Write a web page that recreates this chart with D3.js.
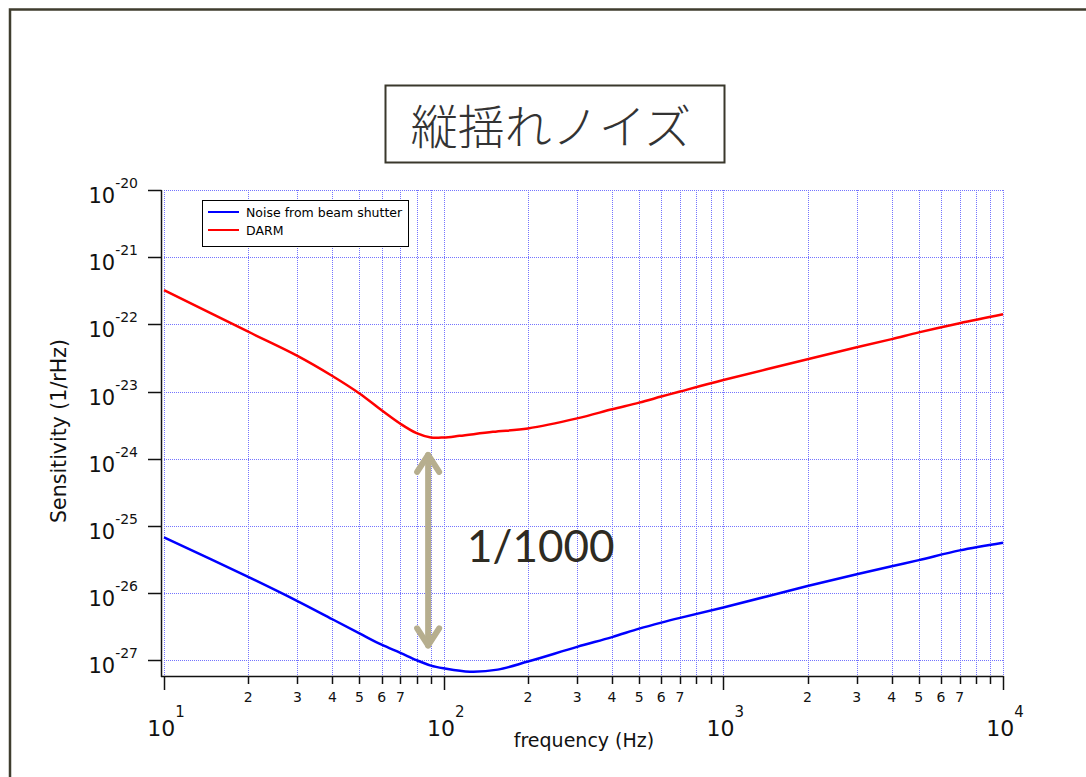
<!DOCTYPE html>
<html>
<head>
<meta charset="utf-8">
<script src="https://cdn.jsdelivr.net/npm/d3@7"></script>
<style>
  body { margin: 0; background: #fff; }
  svg { display: block; }
</style>
</head>
<body>
<svg width="1086" height="777"></svg>
<script>
// data (frequency in Hz, sensitivity in 1/rHz)
const blueFreq = [10, 20, 30, 40, 50, 60, 70, 80, 90, 100, 124, 156, 200, 300, 400, 500, 600, 700, 1000, 2000, 3000, 4000, 5000, 7000, 10000];
const blueVal = [6.76e-26, 1.74e-26, 7.59e-27, 4.07e-27, 2.51e-27, 1.70e-27, 1.29e-27, 1.00e-27, 8.32e-28, 7.59e-28, 6.76e-28, 7.24e-28, 9.55e-28, 1.58e-27, 2.21e-27, 2.95e-27, 3.63e-27, 4.27e-27, 6.10e-27, 1.27e-26, 1.91e-26, 2.51e-26, 3.09e-26, 4.32e-26, 5.62e-26];

const redFreq = [10, 20, 30, 40, 50, 60, 70, 80, 90, 100, 114, 150, 200, 300, 400, 500, 600, 700, 1000, 2000, 3000, 4000, 5000, 7000, 10000];
const redVal = [3.24e-22, 7.76e-23, 3.39e-23, 1.70e-23, 9.33e-24, 5.25e-24, 3.31e-24, 2.40e-24, 2.07e-24, 2.07e-24, 2.19e-24, 2.51e-24, 2.82e-24, 3.98e-24, 5.43e-24, 6.84e-24, 8.41e-24, 1.00e-23, 1.48e-23, 3.02e-23, 4.57e-23, 6.03e-23, 7.59e-23, 1.04e-22, 1.41e-22];

const seriesNames = ["Noise from beam shutter", "DARM"];
const xMajor = [10, 100, 1000, 10000];
const xMajorExp = ["1", "2", "3", "4"];
const yMajor = [1e-20, 1e-21, 1e-22, 1e-23, 1e-24, 1e-25, 1e-26, 1e-27];
const yMajorExp = ["-20", "-21", "-22", "-23", "-24", "-25", "-26", "-27"];
const titleText = "縦揺れノイズ";
const ratioText = "1/1000";
const arrowFreq = 88, arrowTop = 1.26e-24, arrowBottom = 1.5e-27;

var svg = d3.select("svg");
var font = "'DejaVu Sans', sans-serif";

svg.append("rect").attr("width", 1086).attr("height", 777).attr("fill", "#fff");

// outer frame (runs off the page right and bottom)
svg.append("path")
  .attr("d", "M10,790 L10,9.5 L1100,9.5")
  .attr("fill", "none")
  .attr("stroke", "#3f3d2e")
  .attr("stroke-width", 2.5);

var x = d3.scaleLog().domain([10, 10000]).range([164, 1003]);
var y = d3.scaleLog().domain([1e-20, Math.pow(10, -27.235)]).range([190, 676]);

// minor ticks for x
var xMinor = [];
xMajor.slice(0, 3).forEach(function(m) {
  for (let k = 2; k <= 9; k++) xMinor.push(m * k);
});

var grid = svg.append("g")
  .attr("stroke", "#7474ff")
  .attr("stroke-width", 1)
  .attr("stroke-dasharray", "1,1");

grid.selectAll(".vg")
  .data(xMajor.concat(xMinor))
  .enter().append("line")
  .attr("x1", d => Math.round(x(d)) + 0.5)
  .attr("x2", d => Math.round(x(d)) + 0.5)
  .attr("y1", 190)
  .attr("y2", 676);

grid.selectAll(".hg")
  .data(yMajor)
  .enter().append("line")
  .attr("x1", 164)
  .attr("x2", 1003)
  .attr("y1", d => Math.round(y(d)) + 0.5)
  .attr("y2", d => Math.round(y(d)) + 0.5);

// axes
var axes = svg.append("g").attr("stroke", "#111").attr("stroke-width", 1.5).attr("fill", "none");
axes.append("line").attr("x1", 161.5).attr("x2", 161.5).attr("y1", 190).attr("y2", 677);
axes.append("line").attr("x1", 161).attr("x2", 1003.5).attr("y1", 676.5).attr("y2", 676.5);

axes.selectAll(".yt")
  .data(yMajor)
  .enter().append("line")
  .attr("x1", 148).attr("x2", 161.5)
  .attr("y1", d => Math.round(y(d)) + 0.5)
  .attr("y2", d => Math.round(y(d)) + 0.5);

axes.selectAll(".xt")
  .data(xMajor)
  .enter().append("line")
  .attr("x1", d => Math.round(x(d)) + 0.5)
  .attr("x2", d => Math.round(x(d)) + 0.5)
  .attr("y1", 676).attr("y2", 690);

axes.selectAll(".xm")
  .data(xMinor)
  .enter().append("line")
  .attr("x1", d => Math.round(x(d)) + 0.5)
  .attr("x2", d => Math.round(x(d)) + 0.5)
  .attr("y1", 676).attr("y2", 684);

// tick labels
var ylab = svg.selectAll(".yl")
  .data(yMajor)
  .enter().append("text")
  .attr("x", 138)
  .attr("y", d => y(d) + 13)
  .attr("text-anchor", "end")
  .style("font-family", font)
  .style("font-size", "21px")
  .attr("fill", "#111");
ylab.append("tspan").text("10");
ylab.append("tspan")
  .attr("dy", -15)
  .style("font-size", "14px")
  .text((d, i) => yMajorExp[i]);

var xlab = svg.selectAll(".xl")
  .data(xMajor)
  .enter().append("text")
  .attr("x", d => x(d) + 2)
  .attr("y", 736)
  .attr("text-anchor", "middle")
  .style("font-family", font)
  .style("font-size", "22px")
  .attr("fill", "#111");
xlab.append("tspan").text("10");
xlab.append("tspan")
  .attr("dy", -19)
  .style("font-size", "15px")
  .text((d, i) => xMajorExp[i]);

svg.selectAll(".xml")
  .data(xMinor.filter(d => +String(d)[0] <= 7))
  .enter().append("text")
  .attr("x", d => x(d))
  .attr("y", 702)
  .attr("text-anchor", "middle")
  .style("font-family", font)
  .style("font-size", "14px")
  .attr("fill", "#111")
  .text(d => String(d)[0]);

// axis titles
svg.append("text")
  .attr("x", 584)
  .attr("y", 747)
  .attr("text-anchor", "middle")
  .style("font-family", font)
  .style("font-size", "19px")
  .attr("fill", "#111")
  .text("frequency (Hz)");

svg.append("text")
  .attr("transform", "translate(66,431) rotate(-90)")
  .attr("text-anchor", "middle")
  .style("font-family", font)
  .style("font-size", "20.5px")
  .attr("fill", "#111")
  .text("Sensitivity (1/rHz)");

// curves
var line = d3.line()
  .x(d => x(d[0]))
  .y(d => y(d[1]))
  .curve(d3.curveCatmullRom.alpha(0.5));

svg.append("path")
  .datum(redFreq.map((f, i) => [f, redVal[i]]))
  .attr("fill", "none")
  .attr("stroke", "#ff0000")
  .attr("stroke-width", 2.5)
  .attr("d", line);

svg.append("path")
  .datum(blueFreq.map((f, i) => [f, blueVal[i]]))
  .attr("fill", "none")
  .attr("stroke", "#0000ff")
  .attr("stroke-width", 2.5)
  .attr("d", line);

// legend
var legend = svg.append("g");
legend.append("rect")
  .attr("x", 202.5).attr("y", 200.5)
  .attr("width", 206).attr("height", 46)
  .attr("fill", "#fff")
  .attr("stroke", "#000")
  .attr("stroke-width", 1);
[["#0000ff", 212], ["#ff0000", 230]].forEach(function(s, i) {
  legend.append("line")
    .attr("x1", 208).attr("x2", 239)
    .attr("y1", s[1]).attr("y2", s[1])
    .attr("stroke", s[0]).attr("stroke-width", 2);
  legend.append("text")
    .attr("x", 246).attr("y", s[1] + 4.5)
    .style("font-family", font)
    .style("font-size", "12.5px")
    .attr("fill", "#000")
    .text(seriesNames[i]);
});

// title box
svg.append("rect")
  .attr("x", 385.5).attr("y", 85.5)
  .attr("width", 339).attr("height", 77)
  .attr("fill", "#fff")
  .attr("stroke", "#3a382c")
  .attr("stroke-width", 2);
svg.append("text")
  .attr("x", 551).attr("y", 144)
  .attr("text-anchor", "middle")
  .style("font-family", "'Noto Sans CJK JP', sans-serif")
  .style("font-weight", 300)
  .style("font-size", "47px")
  .attr("fill", "#333")
  .text(titleText);

// ratio annotation arrow
var ax = x(arrowFreq), ay1 = y(arrowTop), ay2 = y(arrowBottom);
var arrow = svg.append("g")
  .attr("stroke", "#b6ae8e")
  .attr("stroke-width", 6)
  .attr("fill", "none")
  .attr("stroke-linecap", "round")
  .attr("stroke-linejoin", "round");
arrow.append("line").attr("x1", ax).attr("x2", ax).attr("y1", ay1 + 3).attr("y2", ay2 - 3);
arrow.append("path").attr("d", `M${ax - 11},${ay1 + 20} L${ax},${ay1 + 3} L${ax + 11},${ay1 + 20}`);
arrow.append("path").attr("d", `M${ax - 11},${ay2 - 20} L${ax},${ay2 - 3} L${ax + 11},${ay2 - 20}`);

svg.append("text")
  .attr("x", 467).attr("y", 562)
  .style("font-family", "Lato, sans-serif")
  .style("font-size", "44px")
  .attr("fill", "#2e2b22")
  .text(ratioText);
</script>
</body>
</html>
